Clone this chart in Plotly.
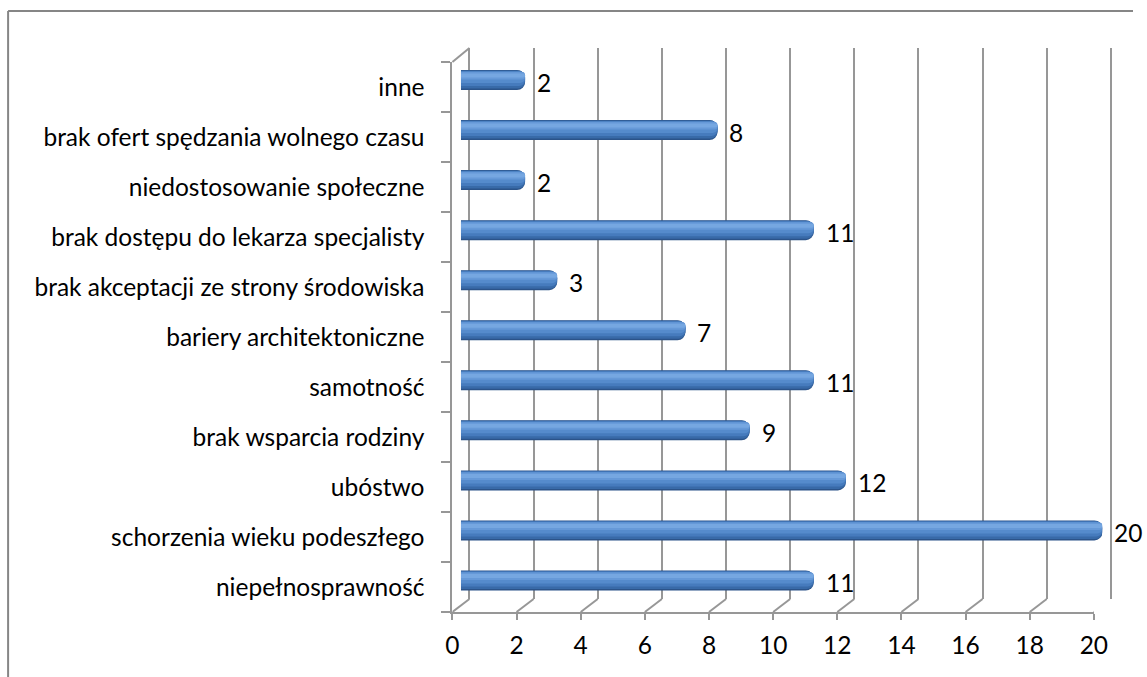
import plotly.graph_objects as go

categories = [
    "niepełnosprawność",
    "schorzenia wieku podeszłego",
    "ubóstwo",
    "brak wsparcia rodziny",
    "samotność",
    "bariery architektoniczne",
    "brak akceptacji ze strony środowiska",
    "brak dostępu do lekarza specjalisty",
    "niedostosowanie społeczne",
    "brak ofert spędzania wolnego czasu",
    "inne",
]
values = [11, 20, 12, 9, 11, 7, 3, 11, 2, 8, 2]
x_ticks = [0, 2, 4, 6, 8, 10, 12, 14, 16, 18, 20]

W, H = 1147, 677
FONT = "Lato"
FS = 24.5
GRID = "#979797"

# horizontal calibration of the rendered page (measured)
X_OFF, X_SCALE = 6.9, 0.981


def cx(p):
    return (p - X_OFF) / X_SCALE


def fx(p):
    return cx(p) / W


def fy(p):
    return 1 - p / H


front = dict(x0=452, x1=1093, y0=62, y1=612)
back = dict(x0=469, x1=1110, y0=48, y1=599)
mid = dict(x0=460.5, x1=1101.5, y0=55, y1=605.5)

fig = go.Figure()

fig.add_trace(go.Scatter(x=[x_ticks[0], x_ticks[-1]], y=[0, 1], mode="markers",
                         marker=dict(opacity=0), xaxis="x2", yaxis="y2",
                         hoverinfo="skip", showlegend=False))
fig.add_trace(go.Scatter(x=values, y=categories, mode="markers",
                         marker=dict(opacity=0), xaxis="x", yaxis="y",
                         hoverinfo="skip", showlegend=False))

layers = [
    (-0.20, 0.40, "#2b5389", 8),
    (-0.17, 0.36, "#386aa8", 7),
    (-0.12, 0.30, "#467bbd", 6),
    (-0.06, 0.23, "#558bcc", 5),
    (0.01, 0.15, "#6699d8", 4),
    (0.05, 0.08, "#76a7e1", 3),
]
for off, wd, col, rad in layers:
    fig.add_trace(go.Bar(
        x=values, y=categories, orientation="h",
        offset=off, width=wd,
        marker=dict(color=col, line=dict(width=0), cornerradius=rad),
        xaxis="x3", yaxis="y3", hoverinfo="skip", showlegend=False,
    ))

for c, v in zip(categories, values):
    fig.add_annotation(x=v, y=c, xref="x3", yref="y3", text=str(v),
                       showarrow=False, xanchor="left", yanchor="middle",
                       xshift=10, yshift=-2,
                       font=dict(family=FONT, size=FS, color="#000000"))

shapes = []
shapes.append(dict(type="line", xref="paper", yref="paper",
                   x0=fx(8), x1=1.0, y0=fy(11), y1=fy(11),
                   line=dict(color="#868686", width=2)))
shapes.append(dict(type="line", xref="paper", yref="paper",
                   x0=fx(8), x1=fx(8), y0=fy(11), y1=0,
                   line=dict(color="#868686", width=2)))
shapes.append(dict(type="line", xref="paper", yref="paper",
                   x0=fx(front["x0"]), y0=fy(front["y0"]),
                   x1=fx(back["x0"]), y1=fy(back["y0"]),
                   line=dict(color=GRID, width=2)))
unit = (cx(front["x1"]) - cx(front["x0"])) / (x_ticks[-1] - x_ticks[0])
dx_units = (cx(back["x0"]) - cx(front["x0"])) / unit
for t in x_ticks:
    shapes.append(dict(type="line", xref="x", yref="paper",
                       x0=t, y0=fy(front["y1"]), x1=t + dx_units, y1=fy(back["y1"]),
                       line=dict(color=GRID, width=2)))

# extend back-wall range so edge gridlines are not clipped
pad_units = 0.2
bunit = (cx(back["x1"]) - cx(back["x0"])) / (x_ticks[-1] - x_ticks[0])
bx0 = (cx(back["x0"]) - pad_units * bunit) / W
bx1 = (cx(back["x1"]) + pad_units * bunit) / W

fig.update_layout(
    width=W, height=H, autosize=False,
    margin=dict(l=0, r=0, t=0, b=0),
    paper_bgcolor="white", plot_bgcolor="rgba(0,0,0,0)",
    barmode="overlay",
    font=dict(family=FONT, size=FS, color="#000000"),
    shapes=shapes,
    xaxis=dict(domain=[fx(front["x0"]), fx(front["x1"])], anchor="y",
               range=[x_ticks[0], x_ticks[-1]], tickvals=x_ticks,
               showgrid=False, zeroline=False,
               showline=True, linecolor=GRID, linewidth=2,
               ticks="outside", ticklen=6, tickwidth=2, tickcolor=GRID,
               ticklabelstandoff=5,
               tickfont=dict(family=FONT, size=FS, color="#000000")),
    yaxis=dict(domain=[fy(front["y1"]), fy(front["y0"])], anchor="x",
               type="category", categoryorder="array", categoryarray=categories,
               range=[-0.5, len(categories) - 0.5],
               showgrid=False, zeroline=False,
               showline=True, linecolor=GRID, linewidth=2,
               ticks="outside", ticklen=9, tickwidth=2, tickcolor=GRID,
               tickson="boundaries", ticklabelstandoff=21,
               tickfont=dict(family=FONT, size=FS, color="#000000")),
    xaxis2=dict(domain=[bx0, bx1], anchor="y2",
                range=[x_ticks[0] - pad_units, x_ticks[-1] + pad_units],
                tickvals=x_ticks,
                showgrid=True, gridcolor=GRID, gridwidth=2,
                zeroline=False,
                showline=False, showticklabels=False, ticks=""),
    yaxis2=dict(domain=[fy(back["y1"]), fy(back["y0"])], anchor="x2",
                range=[0, 1], visible=False),
    xaxis3=dict(domain=[fx(mid["x0"]), fx(mid["x1"])], anchor="y3",
                range=[x_ticks[0], x_ticks[-1]], visible=False),
    yaxis3=dict(domain=[fy(mid["y1"]), fy(mid["y0"])], anchor="x3",
                type="category", categoryorder="array", categoryarray=categories,
                range=[-0.5, len(categories) - 0.5], visible=False),
)

fig.write_html(
    "out.html",
    config={"displayModeBar": False, "responsive": False},
    post_script="document.body.style.margin='0';document.body.style.overflow='hidden';",
)
